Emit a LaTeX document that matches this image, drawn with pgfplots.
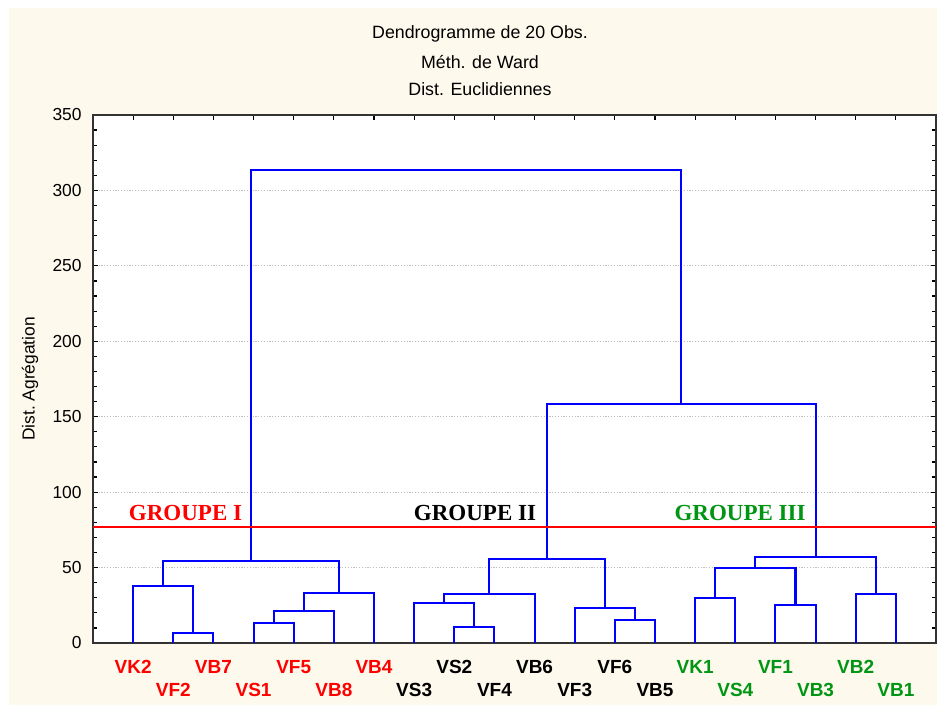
\documentclass[border=0pt]{standalone}
\usepackage{pgfplots}
\pgfplotsset{compat=1.18}
\usepackage{fontspec}
\setmainfont{Liberation Sans}
\newfontfamily\groupfont{Liberation Serif}
\definecolor{cream}{RGB}{254,249,237}
\definecolor{lred}{RGB}{255,0,0}
\definecolor{lgreen}{RGB}{0,150,20}
\definecolor{dblue}{RGB}{0,0,255}
\newcommand{\lab}{\fontsize{9.5}{11}\selectfont\bfseries}
\begin{document}
\begin{tikzpicture}[x=0.5pt,y=0.5pt]
\fill[white] (0,0) rectangle (937,705);
\fill[cream] (9,0) rectangle (937,697);
\begin{axis}[
  at={(46.5pt,31pt)}, anchor=south west,
  scale only axis, width=421.5pt, height=264pt,
  xmin=0, xmax=21, ymin=0, ymax=350,
  axis background/.style={fill=white},
  axis line style={draw=black!80, line width=0.7pt},
  xtick={1,...,20}, xticklabels={},
  ytick={0,50,...,350}, minor y tick num=4,
  tick align=inside, tick pos=both,
  major tick length=2.5pt, minor tick length=2pt,
  every tick/.style={black, line width=0.6pt},
  ymajorgrids,
  grid style={gray!50, line width=0.5pt, dash pattern=on 0.6pt off 0.8pt},
  yticklabel style={inner sep=0pt, xshift=-5.5pt, font=\fontsize{8.7}{10}\selectfont},
  /pgf/number format/assume math mode=true,
  clip=false,
  link/.style={dblue, line width=1.05pt, mark=none, solid},
]
% dendrogram links: (left x, left h) (left x, h) (right x, h) (right x, right h)
\addplot[link] coordinates {(2,0) (2,6.4) (3,6.4) (3,0)};
\addplot[link] coordinates {(1,0) (1,37.8) (2.5,37.8) (2.5,6.4)};
\addplot[link] coordinates {(4,0) (4,13.0) (5,13.0) (5,0)};
\addplot[link] coordinates {(4.5,13.0) (4.5,21.0) (6,21.0) (6,0)};
\addplot[link] coordinates {(5.25,21.0) (5.25,33.4) (7,33.4) (7,0)};
\addplot[link] coordinates {(1.75,37.8) (1.75,54.4) (6.125,54.4) (6.125,33.4)};
\addplot[link] coordinates {(9,0) (9,10.8) (10,10.8) (10,0)};
\addplot[link] coordinates {(8,0) (8,26.7) (9.5,26.7) (9.5,10.8)};
\addplot[link] coordinates {(8.75,26.7) (8.75,32.3) (11,32.3) (11,0)};
\addplot[link] coordinates {(13,0) (13,15.2) (14,15.2) (14,0)};
\addplot[link] coordinates {(12,0) (12,23.0) (13.5,23.0) (13.5,15.2)};
\addplot[link] coordinates {(9.875,32.3) (9.875,55.5) (12.75,55.5) (12.75,23.0)};
\addplot[link] coordinates {(15,0) (15,29.6) (16,29.6) (16,0)};
\addplot[link] coordinates {(17,0) (17,25.2) (18,25.2) (18,0)};
\addplot[link] coordinates {(15.5,29.6) (15.5,49.9) (17.5,49.9) (17.5,25.2)};
\addplot[link] coordinates {(19,0) (19,32.3) (20,32.3) (20,0)};
\addplot[link] coordinates {(16.5,49.9) (16.5,57.2) (19.5,57.2) (19.5,32.3)};
\addplot[link] coordinates {(11.3125,55.5) (11.3125,158.3) (18,158.3) (18,57.2)};
\addplot[link] coordinates {(3.9375,54.4) (3.9375,313.4) (14.65625,313.4) (14.65625,158.3)};
\addplot[lred, line width=1pt, mark=none, solid] coordinates {(0,77) (21,77)};
% leaf labels
\node[font=\lab, text=lred] at (axis cs:1,0) [yshift=-12pt] {VK2};
\node[font=\lab, text=lred] at (axis cs:2,0) [yshift=-23.5pt] {VF2};
\node[font=\lab, text=lred] at (axis cs:3,0) [yshift=-12pt] {VB7};
\node[font=\lab, text=lred] at (axis cs:4,0) [yshift=-23.5pt] {VS1};
\node[font=\lab, text=lred] at (axis cs:5,0) [yshift=-12pt] {VF5};
\node[font=\lab, text=lred] at (axis cs:6,0) [yshift=-23.5pt] {VB8};
\node[font=\lab, text=lred] at (axis cs:7,0) [yshift=-12pt] {VB4};
\node[font=\lab, text=black] at (axis cs:8,0) [yshift=-23.5pt] {VS3};
\node[font=\lab, text=black] at (axis cs:9,0) [yshift=-12pt] {VS2};
\node[font=\lab, text=black] at (axis cs:10,0) [yshift=-23.5pt] {VF4};
\node[font=\lab, text=black] at (axis cs:11,0) [yshift=-12pt] {VB6};
\node[font=\lab, text=black] at (axis cs:12,0) [yshift=-23.5pt] {VF3};
\node[font=\lab, text=black] at (axis cs:13,0) [yshift=-12pt] {VF6};
\node[font=\lab, text=black] at (axis cs:14,0) [yshift=-23.5pt] {VB5};
\node[font=\lab, text=lgreen] at (axis cs:15,0) [yshift=-12pt] {VK1};
\node[font=\lab, text=lgreen] at (axis cs:16,0) [yshift=-23.5pt] {VS4};
\node[font=\lab, text=lgreen] at (axis cs:17,0) [yshift=-12pt] {VF1};
\node[font=\lab, text=lgreen] at (axis cs:18,0) [yshift=-23.5pt] {VB3};
\node[font=\lab, text=lgreen] at (axis cs:19,0) [yshift=-12pt] {VB2};
\node[font=\lab, text=lgreen] at (axis cs:20,0) [yshift=-23.5pt] {VB1};
\end{axis}
% titles
\node[font=\fontsize{8.9}{10}\selectfont] at (480,671) {Dendrogramme de 20 Obs.};
\node[font=\fontsize{8.9}{10}\selectfont] at (480,643) {Méth. de Ward};
\node[font=\fontsize{8.9}{10}\selectfont] at (480,616) {Dist. Euclidiennes};
\node[font=\fontsize{8.7}{10}\selectfont, rotate=90] at (30,326) {Dist.\ Agrégation};
% group labels
\node[font=\fontsize{11.5}{13}\selectfont\groupfont\bfseries, text=lred, anchor=base] at (185.5,184) {GROUPE I};
\node[font=\fontsize{11.5}{13}\selectfont\groupfont\bfseries, text=black, anchor=base] at (475,184) {GROUPE II};
\node[font=\fontsize{11.5}{13}\selectfont\groupfont\bfseries, text=lgreen, anchor=base] at (740,184) {GROUPE III};
\end{tikzpicture}
\end{document}
